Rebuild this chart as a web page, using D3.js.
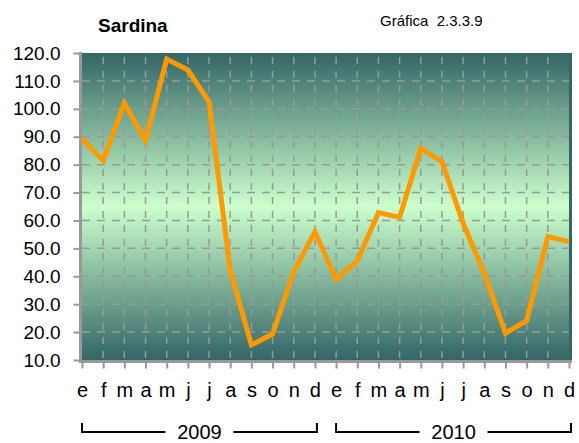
<!DOCTYPE html>
<html>
<head>
<meta charset="utf-8">
<script src="https://cdn.jsdelivr.net/npm/d3@7"></script>
<style>
  body { margin: 0; background: #fff; }
  text { font-family: "Liberation Sans", Arial, sans-serif; fill: #000; }
</style>
</head>
<body>
<div id="chart"></div>
<script>
var months = ["e","f","m","a","m","j","j","a","s","o","n","d",
              "e","f","m","a","m","j","j","a","s","o","n","d"];
var years = ["2009", "2010"];
var values = [89.4, 81.4, 102.0, 88.6, 117.8, 113.9, 102.5, 42.2, 15.4, 19.3, 41.6, 56.0,
              38.9, 45.5, 62.8, 61.1, 85.8, 81.1, 59.0, 41.1, 19.6, 24.1, 54.2, 52.4];
var yTicks = [10, 20, 30, 40, 50, 60, 70, 80, 90, 100, 110, 120];

var W = 579, H = 443;
var pLeft = 82, pRight = 569, pTop = 53, pBottom = 360;

var svg = d3.select('#chart').append('svg')
  .attr('width', W)
  .attr('height', H);

var x = d3.scalePoint()
  .domain(d3.range(months.length))
  .range([pLeft, pRight]);
var y = d3.scaleLinear()
  .domain([10, 120])
  .range([pBottom, pTop]);

// background gradient
var grad = svg.append('defs').append('linearGradient')
  .attr('id', 'bg')
  .attr('x1', 0).attr('y1', 0).attr('x2', 0).attr('y2', 1);
grad.append('stop').attr('offset', '0%').attr('stop-color', '#336666');
grad.append('stop').attr('offset', '50%').attr('stop-color', '#ccffcc');
grad.append('stop').attr('offset', '100%').attr('stop-color', '#336666');

svg.append('rect')
  .attr('x', pLeft).attr('y', pTop)
  .attr('width', pRight - pLeft).attr('height', pBottom - pTop)
  .attr('fill', 'url(#bg)');

// gridlines
svg.append('g').selectAll('line')
  .data(yTicks.slice(1, -1))
  .enter().append('line')
  .attr('x1', pLeft).attr('x2', pRight)
  .attr('y1', function(d) { return y(d); })
  .attr('y2', function(d) { return y(d); })
  .attr('stroke', '#999').attr('stroke-width', 1.5)
  .attr('stroke-dasharray', '8,7');

svg.append('g').selectAll('line')
  .data(d3.range(1, months.length - 1))
  .enter().append('line')
  .attr('x1', function(d) { return x(d); })
  .attr('x2', function(d) { return x(d); })
  .attr('y1', pTop + 4).attr('y2', pBottom)
  .attr('stroke', '#999').attr('stroke-width', 1.5)
  .attr('stroke-dasharray', '7,7');

// right border
svg.append('line')
  .attr('x1', pRight + 1.5).attr('x2', pRight + 1.5)
  .attr('y1', pTop).attr('y2', pBottom)
  .attr('stroke', '#336666').attr('stroke-width', 3);

// y axis
var yAxis = d3.axisLeft(y)
  .tickValues(yTicks)
  .tickFormat(d3.format('.1f'))
  .tickSize(7)
  .tickPadding(13);
var gy = svg.append('g')
  .attr('transform', 'translate(' + (pLeft - 1.5) + ',0)')
  .call(yAxis);
gy.select('.domain').attr('stroke', '#999').attr('stroke-width', 3)
  .attr('d', 'M0,' + (pTop - 1) + 'V' + (pBottom + 3));
gy.selectAll('.tick line').attr('stroke', '#999').attr('stroke-width', 2);
gy.selectAll('.tick text')
  .style('font-size', '19px')
  .attr('fill', '#000');

// x axis
var xAxis = d3.axisBottom(x)
  .tickFormat(function(i) { return months[i]; })
  .tickSize(7)
  .tickPadding(14);
var gx = svg.append('g')
  .attr('transform', 'translate(0,' + (pBottom + 1.5) + ')')
  .call(xAxis);
gx.select('.domain').attr('stroke', '#999').attr('stroke-width', 3)
  .attr('d', 'M' + (pLeft - 3) + ',0H' + (pRight + 3));
gx.selectAll('.tick line').attr('stroke', '#999').attr('stroke-width', 2);
gx.selectAll('.tick text')
  .style('font-size', '20px')
  .attr('fill', '#000');

// data line
var line = d3.line()
  .x(function(d, i) { return x(i); })
  .y(function(d) { return y(d); });
svg.append('path')
  .datum(values)
  .attr('d', line)
  .attr('fill', 'none')
  .attr('stroke', '#ff9900')
  .attr('stroke-width', 5)
  .attr('stroke-linejoin', 'miter');

// year brackets
var by = 432, bt = 423, gap = 34;
years.forEach(function(yr, k) {
  var x0 = x(k * 12), x1 = x(k * 12 + 11) + 2;
  var mid = (x0 + x1) / 2;
  svg.append('path')
    .attr('d', 'M' + x0 + ',' + bt + 'V' + by + 'H' + (mid - gap) +
               'M' + (mid + gap) + ',' + by + 'H' + x1 + 'V' + bt)
    .attr('fill', 'none')
    .attr('stroke', '#000')
    .attr('stroke-width', 2);
  svg.append('text')
    .attr('x', mid).attr('y', 439)
    .attr('text-anchor', 'middle')
    .style('font-size', '20px')
    .text(yr);
});

// titles
svg.append('text')
  .attr('x', 98).attr('y', 32)
  .style('font-size', '19px')
  .style('font-weight', 'bold')
  .text('Sardina');
svg.append('text')
  .attr('x', 380).attr('y', 26)
  .style('font-size', '15px')
  .attr('xml:space', 'preserve')
  .text('Gráfica  2.3.3.9');
</script>
</body>
</html>
